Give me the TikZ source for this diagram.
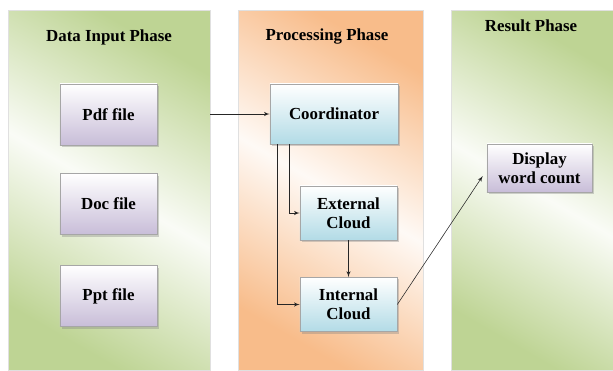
\documentclass[tikz,border=0pt]{standalone}
\usepackage{fontspec}
\setmainfont{Liberation Serif}
\usetikzlibrary{arrows}
\usetikzlibrary{fit, shadows}
\definecolor{phasegreen}{RGB}{190,212,148}
\definecolor{phaseorange}{RGB}{248,188,138}
\definecolor{filelilac}{RGB}{200,189,216}
\definecolor{cloudblue}{RGB}{178,219,230}

\begin{document}
\begin{tikzpicture}[x=0.025cm, y=-0.025cm, font=\fontsize{12}{13.5}\selectfont\bfseries]
            \tikzset{phase/.style = {inner sep=0pt, draw=black!12, left color=#1, right color=#1, middle color=#1!8, shading angle=-30}}
            \tikzset{box/.style = {shape=rectangle, draw=black!35, align=center, drop shadow={shadow xshift=1.5pt, shadow yshift=-1.5pt, opacity=0.35}}}
            \tikzset{filebox/.style = {box, top color=white, bottom color=filelilac, minimum width=2.425cm, minimum height=1.525cm}}
            \tikzset{cloudbox/.style = {box, top color=white, bottom color=cloudblue, minimum width=2.425cm, minimum height=1.36cm}}
            \tikzset{edge/.style = {-,> = latex', black!85, thin}}
            \useasboundingbox (0, 0) rectangle (613, 370);
            \node[phase=phasegreen, fit={(8, 10) (210, 370)}] (input) {};
            \node[phase=phaseorange, fit={(238, 10) (423, 370)}] (processing) {};
            \node[phase=phasegreen, fit={(451, 10) (613, 370)}] (result) {};
            \node (t1) at (109, 37) {Data Input Phase};
            \node (t2) at (327, 37) {Processing Phase};
            \node (t3) at (531, 26) {Result Phase};
            \node[filebox] (pdf) at (108.5, 114.5) {Pdf file};
            \node[filebox] (doc) at (108.5, 204) {Doc file};
            \node[filebox] (ppt) at (108.5, 296) {Ppt file};
            \node[cloudbox, minimum width=3.2cm, minimum height=1.5cm] (coord) at (334, 114) {Coordinator};
            \node[cloudbox] (ext) at (348.5, 213) {External\\Cloud};
            \node[cloudbox] (int) at (348.5, 304.5) {Internal\\Cloud};
            \node[filebox, minimum width=2.625cm, minimum height=1.2cm] (show) at (539.5, 168) {Display\\word count};
            \draw[edge,->] (input.east |- coord.west) -- (coord.west);
            \draw[edge,->] ([xshift=0.5cm]coord.south west) |- (ext.west);
            \draw[edge,->] ([xshift=0.2cm]coord.south west) |- (int.west);
            \draw[edge,->] (ext) -- (int);
            \draw[edge,->] (int.east) -- ([xshift=-0.1cm, yshift=-0.2cm]show.west);
          \end{tikzpicture}
\end{document}
